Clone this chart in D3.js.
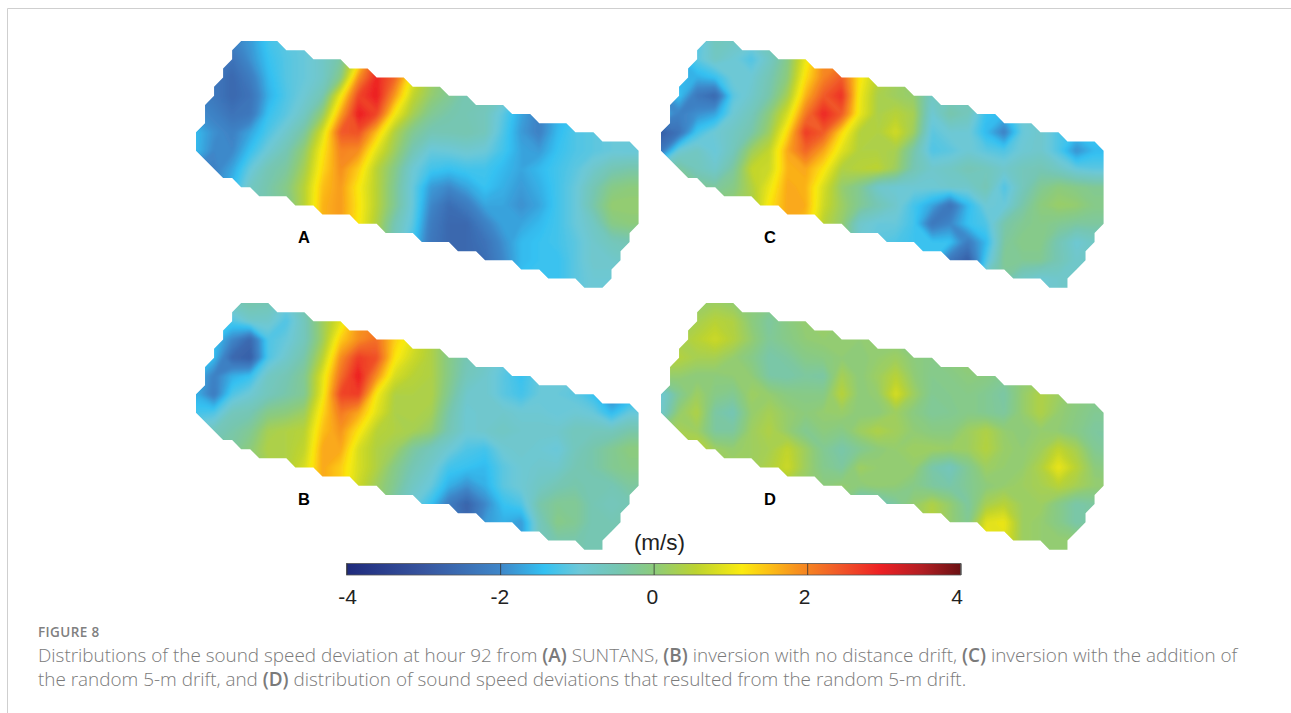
<!DOCTYPE html>
<html>
<head>
<meta charset="utf-8">
<script src="https://cdn.jsdelivr.net/npm/d3@7"></script>
<style>
html, body { margin: 0; padding: 0; background: #fff; }
svg { display: block; }
</style>
</head>
<body>
<script>
// colour bar stops
var colorDomain = [-4, -3, -2, -1.43, -0.97, -0.45, 0, 0.55, 1.15, 1.5, 1.85, 2.4, 2.95, 3.5, 4];
var colorRange = ["#1f2a7c", "#37559f", "#3f86c8", "#33c1f2", "#6cc8d8", "#76c6b0", "#8ccb7c", "#bcd330", "#fbeb0f", "#fcc015", "#f7931e", "#f15a29", "#ed2024", "#b11e23", "#6b1113"];
var legendTicks = [-4, -2, 0, 2, 4];

// sound speed deviation (m/s), 26 columns by 15 rows, one sample every 2 outline units
var panelA = [
[-2.1,-2.1,-2.1,-1.8,-1.3,-1.1,-1.0,-0.8,-0.5,0.5,2.5,2.5,1.0,0.4,0.0,-0.3,-0.4,-0.5,-0.7,-1.0,-1.2,-1.2,-1.1,-1.0,-1.0,-1.0],
[-2.2,-2.2,-2.4,-1.9,-1.4,-1.15,-1.0,-0.75,-0.35,1.0,2.6,2.7,1.1,0.4,0.0,-0.3,-0.4,-0.6,-0.9,-1.2,-1.3,-1.2,-1.1,-1.0,-1.0,-1.0],
[-2.2,-2.3,-2.6,-2.2,-1.5,-1.15,-1.0,-0.75,-0.1,1.9,2.9,2.3,0.95,0.25,-0.1,-0.4,-0.5,-0.6,-1.0,-1.5,-1.4,-1.2,-1.1,-1.0,-1.0,-1.0],
[-2.1,-2.3,-2.6,-2.4,-1.6,-1.2,-0.9,-0.5,1.05,2.6,3.0,1.8,0.6,0.1,-0.2,-0.5,-0.5,-0.7,-1.3,-1.6,-1.5,-1.2,-1.1,-1.0,-1.0,-1.0],
[-1.9,-2.1,-2.4,-2.3,-1.4,-1.1,-0.7,0.1,1.7,3.0,2.6,1.1,0.3,-0.2,-0.4,-0.5,-0.6,-1.1,-1.7,-2.1,-1.6,-1.3,-1.1,-1.0,-1.0,-1.0],
[-1.5,-1.9,-2.1,-1.7,-1.2,-0.8,-0.3,0.8,2.4,2.5,1.5,0.4,-0.2,-0.5,-0.5,-0.45,-0.6,-1.2,-1.8,-2.1,-1.5,-1.2,-1.1,-1.0,-1.0,-1.0],
[-1.5,-2.0,-2.0,-1.4,-0.9,-0.5,0.1,1.15,2.0,1.9,0.9,0.2,-0.5,-1.0,-0.95,-0.85,-0.95,-1.3,-1.7,-1.8,-1.4,-1.2,-1.1,-1.0,-1.0,-1.0],
[-2.0,-2.1,-1.7,-1.0,-0.5,-0.3,0.3,1.3,1.9,1.4,0.5,-0.1,-0.9,-1.3,-1.4,-1.3,-1.3,-1.5,-1.7,-1.5,-1.3,-1.1,-0.8,-0.5,-0.4,-0.4],
[-2.0,-2.0,-1.5,-0.7,-0.4,-0.1,0.5,1.5,1.8,1.15,0.5,-0.2,-1.0,-1.8,-2.0,-1.7,-1.4,-1.6,-1.8,-1.6,-1.3,-1.0,-0.5,-0.1,0.0,0.0],
[-2.0,-1.8,-1.0,-0.6,-0.4,-0.2,0.5,1.6,1.8,1.2,0.5,-0.2,-1.0,-2.0,-2.5,-2.2,-1.7,-1.7,-1.9,-1.7,-1.3,-1.0,-0.4,0.1,0.1,0.1],
[-1.0,-0.8,-0.6,-0.4,-0.2,0.0,0.5,1.6,1.8,1.15,0.4,-0.5,-1.1,-2.2,-2.6,-2.6,-2.1,-1.7,-1.7,-1.5,-1.3,-1.0,-0.7,-0.1,0.0,0.0],
[-1.0,-0.8,-0.6,-0.4,-0.2,0.0,0.5,1.6,1.8,1.1,0.3,-0.6,-1.3,-2.3,-2.6,-2.6,-2.4,-1.9,-1.5,-1.4,-1.3,-1.1,-0.8,-0.6,-0.5,-0.5],
[-1.0,-0.8,-0.6,-0.4,-0.2,0.0,0.5,1.6,1.8,1.1,0.3,-0.6,-1.3,-2.3,-2.5,-2.6,-2.5,-2.0,-1.5,-1.4,-1.4,-1.1,-0.8,-0.8,-0.7,-0.7],
[-1.0,-0.8,-0.6,-0.4,-0.2,0.0,0.5,1.6,1.8,1.1,0.3,-0.6,-1.3,-2.3,-2.5,-2.6,-2.5,-2.0,-1.4,-1.4,-1.4,-1.1,-0.9,-0.9,-0.9,-0.9],
[-1.0,-0.8,-0.6,-0.4,-0.2,0.0,0.5,1.6,1.8,1.1,0.3,-0.6,-1.3,-2.3,-2.5,-2.6,-2.5,-2.0,-1.4,-1.4,-1.4,-1.1,-0.9,-0.9,-0.9,-0.9]
];
var panelB = [
[-1.2,-1.0,-0.6,-0.4,-0.5,-0.9,-0.4,0.1,0.8,1.7,1.8,1.3,0.6,0.4,0.2,0.0,-0.2,-0.4,-0.7,-1.0,-1.0,-1.0,-1.1,-1.2,-1.2,-1.2],
[-1.4,-1.4,-1.2,-0.8,-0.8,-1.2,-0.6,0.2,0.9,1.8,2.0,1.4,0.6,0.35,0.1,-0.2,-0.4,-0.6,-0.8,-1.0,-1.0,-1.0,-1.1,-1.2,-1.2,-1.2],
[-1.4,-1.4,-2.0,-2.6,-1.2,-1.0,-0.6,0.2,1.4,1.9,2.2,1.4,0.9,0.4,-0.1,-0.4,-0.6,-0.8,-1.2,-1.0,-1.0,-1.0,-1.1,-1.2,-1.2,-1.2],
[-1.4,-1.5,-2.6,-2.8,-1.2,-0.8,-0.4,0.5,1.9,2.7,2.5,1.2,0.7,0.4,-0.1,-0.5,-0.7,-1.0,-1.3,-1.1,-1.0,-1.0,-1.1,-1.3,-1.3,-1.3],
[-1.5,-2.1,-1.6,-1.4,-0.7,-0.5,-0.2,0.9,2.2,3.0,1.9,0.8,0.5,0.4,-0.1,-0.6,-0.8,-1.1,-1.4,-1.0,-1.0,-1.0,-1.3,-1.7,-1.5,-1.5],
[-1.6,-2.2,-1.2,-0.9,-0.6,-0.4,-0.2,1.0,2.6,2.7,1.1,0.4,0.4,0.4,-0.2,-0.8,-0.8,-1.1,-1.3,-1.0,-1.0,-1.1,-1.4,-2.1,-1.7,-1.7],
[-1.3,-1.2,-0.6,-0.5,-0.1,0.0,0.2,1.3,2.1,1.7,0.9,0.35,0.4,0.3,-0.4,-0.9,-0.8,-0.8,-0.9,-0.9,-1.0,-0.9,-1.0,-1.5,-1.0,-1.0],
[-0.8,-0.6,-0.4,-0.2,0.3,0.4,0.5,1.5,1.85,1.2,0.5,0.4,0.3,0.1,-0.5,-0.9,-0.8,-0.7,-0.8,-0.8,-0.8,-0.6,-0.6,-0.6,-0.4,-0.4],
[-0.5,-0.4,-0.3,0.0,0.4,0.4,0.6,1.7,1.7,0.8,0.4,0.2,-0.3,-0.6,-0.9,-1.2,-1.3,-0.9,-0.8,-0.9,-1.0,-0.6,-0.4,-0.2,0.0,0.0],
[-0.3,-0.3,-0.2,0.0,0.3,0.4,0.8,1.7,1.4,0.8,0.4,-0.1,-0.5,-0.8,-1.3,-1.4,-1.5,-1.1,-0.9,-0.8,-0.8,-0.5,-0.4,-0.2,-0.1,-0.1],
[-0.3,-0.3,-0.2,0.0,0.3,0.4,0.8,1.7,1.4,0.7,0.2,-0.2,-0.7,-1.0,-1.6,-1.9,-1.6,-1.1,-0.9,-0.7,-0.5,-0.4,-0.5,-0.5,-0.3,-0.3],
[-0.3,-0.3,-0.2,0.0,0.3,0.4,0.8,1.7,1.4,0.7,0.2,-0.4,-0.9,-1.4,-2.2,-2.7,-2.0,-1.4,-1.2,-0.4,-0.2,-0.2,-0.5,-0.6,-0.5,-0.5],
[-0.3,-0.3,-0.2,0.0,0.3,0.4,0.8,1.7,1.4,0.7,0.2,-0.4,-0.9,-1.4,-2.0,-2.6,-1.8,-1.6,-1.8,-0.6,-0.1,-0.2,-0.5,-0.5,-0.5,-0.5],
[-0.3,-0.3,-0.2,0.0,0.3,0.4,0.8,1.7,1.4,0.7,0.2,-0.4,-0.9,-1.4,-2.0,-2.6,-1.8,-1.6,-1.8,-0.6,-0.4,-0.4,-0.5,-0.5,-0.5,-0.5],
[-0.3,-0.3,-0.2,0.0,0.3,0.4,0.8,1.7,1.4,0.7,0.2,-0.4,-0.9,-1.4,-2.0,-2.6,-1.8,-1.6,-1.8,-0.6,-0.4,-0.4,-0.5,-0.5,-0.5,-0.5]
];
var panelC = [
[-1.5,-1.4,-1.2,-0.6,-0.7,-0.8,-0.5,0.0,0.7,1.6,1.6,1.0,0.5,0.3,0.2,0.0,-0.2,-0.4,-0.7,-0.9,-1.0,-0.9,-1.0,-1.0,-0.9,-0.9],
[-1.8,-1.6,-1.1,-0.7,-0.9,-1.2,-0.7,-0.1,1.0,1.9,2.0,1.1,0.5,0.3,0.2,0.0,-0.2,-0.4,-0.7,-0.9,-1.0,-0.9,-1.0,-1.0,-0.9,-0.9],
[-2.0,-1.5,-1.6,-1.4,-0.9,-0.9,-0.5,0.0,1.25,2.0,2.4,1.2,0.5,0.25,0.0,-0.3,-0.4,-0.5,-0.8,-1.0,-1.0,-0.9,-1.0,-1.0,-0.9,-0.9],
[-2.0,-1.4,-2.3,-2.6,-1.1,-0.8,-0.4,0.3,1.6,2.4,2.8,1.05,0.35,0.2,0.1,-0.7,-0.6,-0.5,-0.7,-0.9,-0.8,-0.8,-0.8,-0.8,-0.8,-0.8],
[-1.5,-2.1,-1.9,-1.7,-0.9,-0.6,0.0,0.8,2.1,2.9,2.4,1.0,0.35,0.5,0.3,-0.9,-0.4,-0.6,-1.4,-1.5,-0.9,-0.8,-0.9,-1.1,-1.0,-1.0],
[-2.8,-2.4,-1.3,-0.9,-0.7,-0.4,0.2,1.3,2.7,2.4,1.3,0.45,0.4,0.75,0.2,-1.1,-0.9,-0.9,-1.5,-2.1,-1.0,-0.8,-1.2,-1.4,-1.3,-1.3],
[-2.3,-0.9,-0.7,-1.0,-0.6,0.2,0.6,1.7,2.3,1.7,0.9,0.4,0.4,0.3,-0.4,-1.2,-1.1,-0.9,-1.1,-1.2,-0.9,-0.8,-1.2,-1.9,-1.5,-1.5],
[-0.5,-0.3,-0.6,-0.8,-0.3,0.6,0.7,1.6,1.7,1.2,0.4,0.5,0.55,0.2,-0.5,-0.8,-0.7,-0.5,-0.6,-0.8,-0.6,-0.5,-0.7,-1.0,-1.1,-1.1],
[-0.3,-0.2,-0.2,-0.3,-0.1,0.4,1.0,1.7,1.6,0.8,0.1,-0.2,-0.8,-0.9,-0.9,-0.9,-0.8,-0.8,-0.5,-1.2,-0.6,-0.2,0.0,-0.1,-0.2,-0.2],
[-0.2,-0.1,0.0,0.0,0.1,0.3,1.2,1.7,1.65,0.7,0.2,-0.2,-0.5,-0.8,-1.3,-1.7,-2.4,-1.5,-0.9,-1.0,-0.4,0.0,0.15,0.1,-0.1,-0.1],
[-0.2,-0.1,0.0,0.0,0.1,0.3,1.1,1.7,1.5,0.5,0.1,-0.8,-1.0,-1.0,-1.3,-2.3,-2.0,-1.4,-1.2,-0.4,-0.2,-0.1,-0.2,-0.3,-0.3,-0.3],
[-0.2,-0.1,0.0,0.0,0.1,0.3,1.1,1.7,1.5,0.5,0.1,-0.9,-1.1,-1.2,-1.35,-1.4,-1.4,-2.2,-1.5,-0.3,-0.1,-0.1,-0.5,-0.9,-0.7,-0.7],
[-0.2,-0.1,0.0,0.0,0.1,0.3,1.1,1.7,1.5,0.5,0.1,-0.9,-1.1,-1.3,-1.4,-1.4,-2.3,-2.8,-1.2,-0.2,-0.2,-0.2,-0.5,-0.8,-0.7,-0.7],
[-0.2,-0.1,0.0,0.0,0.1,0.3,1.1,1.7,1.5,0.5,0.1,-0.9,-1.1,-1.3,-1.4,-1.4,-2.4,-2.5,-0.6,-0.3,-0.7,-0.9,-0.8,-0.7,-0.7,-0.7],
[-0.2,-0.1,0.0,0.0,0.1,0.3,1.1,1.7,1.5,0.5,0.1,-0.9,-1.1,-1.3,-1.4,-1.4,-2.4,-2.5,-0.6,-0.3,-0.7,-0.9,-0.8,-0.7,-0.7,-0.7]
];
var panelD = [
[0.1,0.1,0.1,0.2,0.1,0.0,-0.1,0.0,0.05,0.1,0.1,0.1,0.05,0.0,0.0,0.0,0.0,0.0,0.0,0.0,0.0,0.0,0.0,0.0,0.0,0.0],
[0.2,0.2,0.3,0.5,0.4,0.0,-0.3,-0.05,0.1,0.15,0.1,0.1,0.05,0.0,0.0,0.0,0.05,0.05,0.0,-0.05,0.0,0.05,0.0,0.0,0.0,0.0],
[0.3,0.3,0.5,0.7,0.45,0.1,-0.25,-0.1,0.05,0.1,0.05,0.05,0.05,0.0,-0.05,0.0,0.1,0.1,0.05,-0.05,0.0,0.05,0.0,0.0,0.0,0.0],
[0.5,0.45,0.3,0.3,0.1,-0.1,-0.4,-0.3,-0.1,-0.05,0.05,0.0,0.1,0.2,0.0,-0.1,0.0,0.1,0.05,-0.05,0.0,0.05,0.05,0.0,0.0,0.0],
[0.1,0.1,0.0,0.0,0.05,0.05,-0.35,-0.4,-0.3,-0.35,0.3,0.0,0.2,0.5,0.05,-0.15,-0.1,0.0,-0.05,-0.2,0.05,0.15,0.1,0.0,-0.1,-0.1],
[-0.9,-0.2,0.2,-0.1,-0.2,0.2,0.1,-0.05,-0.1,-0.1,0.5,0.0,0.1,0.8,0.2,-0.2,-0.15,-0.1,-0.2,-0.35,0.1,0.4,0.2,0.0,-0.1,-0.1],
[-0.8,0.1,0.4,-0.35,-0.5,0.1,0.3,0.1,0.0,0.1,0.15,0.0,0.0,0.2,-0.05,-0.25,-0.2,-0.1,-0.2,-0.3,0.1,0.4,0.1,-0.05,-0.2,-0.2],
[0.0,0.3,0.2,-0.3,-0.3,0.2,0.4,0.1,-0.2,0.0,-0.1,0.2,0.4,0.25,0.05,-0.05,-0.05,0.2,0.4,0.1,0.0,0.1,0.05,-0.1,-0.3,-0.3],
[0.2,0.3,0.6,0.2,0.1,0.2,0.3,0.6,0.2,-0.2,-0.4,-0.2,0.0,0.1,0.2,0.2,0.15,0.2,0.45,0.15,0.05,0.2,0.6,0.3,-0.2,-0.3],
[0.3,0.5,0.7,0.3,0.2,0.2,0.4,0.7,0.2,-0.15,-0.3,0.2,0.1,0.05,0.1,-0.4,-0.6,-0.2,0.2,0.1,0.1,0.4,1.0,0.5,0.0,-0.1],
[0.3,0.3,0.3,0.2,0.2,0.2,0.3,0.3,0.1,0.0,0.1,0.0,0.1,0.05,-0.1,-0.3,-0.4,-0.2,0.0,0.1,0.2,0.3,0.5,0.3,0.1,0.1],
[0.3,0.3,0.3,0.2,0.2,0.2,0.3,0.3,0.1,0.0,-0.1,-0.7,-0.6,-0.3,0.1,0.4,0.1,-0.3,0.3,0.5,0.2,0.2,-0.1,-0.4,-0.3,-0.3],
[0.3,0.3,0.3,0.2,0.2,0.2,0.3,0.3,0.1,0.0,-0.1,-0.7,-0.6,-0.3,0.1,0.5,0.1,-0.2,0.9,1.0,0.2,0.1,-0.1,-0.4,-0.3,-0.3],
[0.3,0.3,0.3,0.2,0.2,0.2,0.3,0.3,0.1,0.0,-0.1,-0.7,-0.6,-0.3,0.1,0.5,0.1,-0.2,1.1,0.9,0.2,0.1,0.1,0.1,0.1,0.1],
[0.3,0.3,0.3,0.2,0.2,0.2,0.3,0.3,0.1,0.0,-0.1,-0.7,-0.6,-0.3,0.1,0.5,0.1,-0.2,1.1,0.9,0.2,0.1,0.1,0.1,0.1,0.1]
];

// survey area outline in outline units, the section top left differs in A
var outlineA = [[5,0],[4,1],[4,2],[3,3],[3,4],[2,5],[2,6],[1,7],[1,9],[0,10],[0,12],[3,15],[4,15],[5,16],[6,16],[7,17],[10,17],[11,18],[13,18],[14,19],[17,19],[18,20],[20,20],[21,21],[24,21],[25,22],[28,22],[29,23],[31,23],[32,24],[35,24],[36,25],[38,25],[39,26],[42,26],[43,27],[45,27],[46,26],[46,25],[47,24],[47,23],[48,22],[48,21],[49,20],[49,12],[48,11],[45,11],[44,10],[42,10],[41,9],[38,9],[37,8],[35,8],[34,7],[31,7],[30,6],[28,6],[27,5],[24,5],[23,4],[20,4],[19,3],[17,3],[16,2],[13,2],[12,1],[10,1],[9,0]];
var outlineOther = [[5,0],[4,1],[4,2],[3,3],[3,4],[2,5],[2,6],[1,7],[1,9],[0,10],[0,12],[3,15],[4,15],[5,16],[6,16],[7,17],[10,17],[11,18],[13,18],[14,19],[17,19],[18,20],[20,20],[21,21],[24,21],[25,22],[28,22],[29,23],[31,23],[32,24],[35,24],[36,25],[38,25],[39,26],[42,26],[43,27],[45,27],[45,26],[46,25],[47,24],[47,23],[48,22],[48,21],[49,20],[49,12],[48,11],[45,11],[44,10],[42,10],[41,9],[38,9],[37,8],[35,8],[34,7],[31,7],[30,6],[28,6],[27,5],[24,5],[23,4],[20,4],[19,3],[17,3],[16,2],[13,2],[12,1],[9,1],[8,0]];

var panelNames = ["A", "C", "B", "D"];
var panelValues = [panelA, panelC, panelB, panelD];
var panelOutlines = [outlineA, outlineOther, outlineOther, outlineOther];

var captionLine1 = [["Distributions of the sound speed deviation at hour 92 from ", 0], ["(A)", 1], [" SUNTANS, ", 0], ["(B)", 1], [" inversion with no distance drift, ", 0], ["(C)", 1], [" inversion with the addition of", 0]];
var captionLine2 = [["the random 5-m drift, and ", 0], ["(D)", 1], [" distribution of sound speed deviations that resulted from the random 5-m drift.", 0]];

var svg = d3.select("body").append("svg")
    .attr("width", 1291)
    .attr("height", 713);

svg.append("rect").attr("width", 1291).attr("height", 713).attr("fill", "#fff");

// figure frame
svg.append("path")
    .attr("d", "M7.5,713V8.5H1291")
    .attr("fill", "none")
    .attr("stroke", "#cfcfcf")
    .attr("stroke-width", 1);

var color = d3.scaleLinear().domain(colorDomain).range(colorRange).clamp(true);
var levels = d3.range(-4, 4, 0.05);

var defs = svg.append("defs");
defs.append("filter")
    .attr("id", "soften")
    .attr("x", "-5%").attr("y", "-5%").attr("width", "110%").attr("height", "110%")
    .append("feGaussianBlur")
    .attr("stdDeviation", 1.8);

var panelLeft = [196, 661, 196, 661];
var panelTop = [41, 41, 303, 303];
var labelBase = [243, 243, 505, 505];
var labelX = [304, 770, 304, 770];

function drawPanel(i) {
    var rows = panelValues[i];
    var nRows = rows.length;
    var nCols = rows[0].length;
    var flat = [];
    rows.forEach(function (r) {
        if (r.length != nCols) throw new Error("bad row in panel " + panelNames[i]);
        r.forEach(function (v) { flat.push(v); });
    });

    // outline units to pixels
    var x = d3.scaleLinear().domain([0, 49]).range([panelLeft[i], panelLeft[i] + 442.6]);
    var y = d3.scaleLinear().domain([0, 27]).range([panelTop[i], panelTop[i] + 246.7]);

    var clipId = "clip" + panelNames[i];
    defs.append("clipPath").attr("id", clipId)
        .append("path")
        .attr("d", d3.line().x(function (d) { return x(d[0]); }).y(function (d) { return y(d[1]); })
            .curve(d3.curveLinearClosed)(panelOutlines[i]));

    var contours = d3.contours().size([nCols, nRows]).thresholds(levels)(flat);

    // contour coordinates sit half a cell off the samples, samples are 2 units apart
    var path = d3.geoPath(d3.geoTransform({
        point: function (cx, cy) {
            this.stream.point(x((cx - 0.5) * 2), y((cy - 0.5) * 2));
        }
    }));

    var g = svg.append("g").attr("clip-path", "url(#" + clipId + ")")
        .append("g").attr("filter", "url(#soften)");

    g.selectAll("path")
        .data(contours)
        .enter().append("path")
        .attr("d", path)
        .attr("fill", function (d) { return color(d.value + 0.025); });

    svg.append("text")
        .attr("x", labelX[i])
        .attr("y", labelBase[i])
        .attr("text-anchor", "middle")
        .attr("font-family", "Liberation Sans")
        .attr("font-weight", "bold")
        .attr("font-size", 16.5)
        .attr("fill", "#000")
        .text(panelNames[i]);
}

d3.range(4).forEach(drawPanel);

// colour bar
var barX = d3.scaleLinear().domain([-4, 4]).range([346.6, 960.7]);
var barTop = 563.5;
var barHeight = 11.5;

var gradient = defs.append("linearGradient").attr("id", "barFill");
gradient.selectAll("stop")
    .data(colorDomain)
    .enter().append("stop")
    .attr("offset", function (d) { return (d + 4) / 8; })
    .attr("stop-color", function (d) { return color(d); });

svg.append("rect")
    .attr("x", barX(-4))
    .attr("y", barTop)
    .attr("width", barX(4) - barX(-4))
    .attr("height", barHeight)
    .attr("fill", "url(#barFill)")
    .attr("stroke", "#555")
    .attr("stroke-width", 0.8);

var labelPos = d3.scaleLinear().domain([-4, 4]).range([347, 956.5]);
var axis = svg.append("g")
    .attr("transform", "translate(0," + (barTop + barHeight) + ")")
    .call(d3.axisBottom(barX).tickValues(legendTicks).tickSizeInner(-barHeight).tickSizeOuter(0).tickFormat(d3.format("d")));
axis.select(".domain").remove();
axis.selectAll("line").attr("stroke", "#333").attr("stroke-width", 0.8);
axis.selectAll("text")
    .attr("x", function (d) { return labelPos(d) - barX(d); })
    .attr("y", 29)
    .attr("dy", 0)
    .attr("font-family", "Liberation Sans")
    .attr("font-size", 21)
    .attr("fill", "#222")
    .text(function (d) { return d; });

svg.append("text")
    .attr("x", 659.5)
    .attr("y", 550)
    .attr("text-anchor", "middle")
    .attr("font-family", "Liberation Sans")
    .attr("font-size", 22.5)
    .attr("fill", "#222")
    .text("(m/s)");

// caption
svg.append("text")
    .attr("x", 38)
    .attr("y", 637)
    .attr("font-family", "Open Sans")
    .attr("font-size", 13.5)
    .attr("font-weight", 600)
    .attr("letter-spacing", 0.4)
    .attr("fill", "#808080")
    .text("FIGURE 8");

function captionLine(parts, baseline) {
    var t = svg.append("text")
        .attr("x", 38)
        .attr("y", baseline)
        .attr("font-family", "Open Sans")
        .attr("font-size", 18.9)
        .attr("fill", "#7a7a7a")
        .attr("xml:space", "preserve");
    parts.forEach(function (p) {
        t.append("tspan")
            .attr("font-weight", p[1] ? 600 : 300)
            .text(p[0]);
    });
}
captionLine(captionLine1, 662);
captionLine(captionLine2, 686);
</script>
</body>
</html>
